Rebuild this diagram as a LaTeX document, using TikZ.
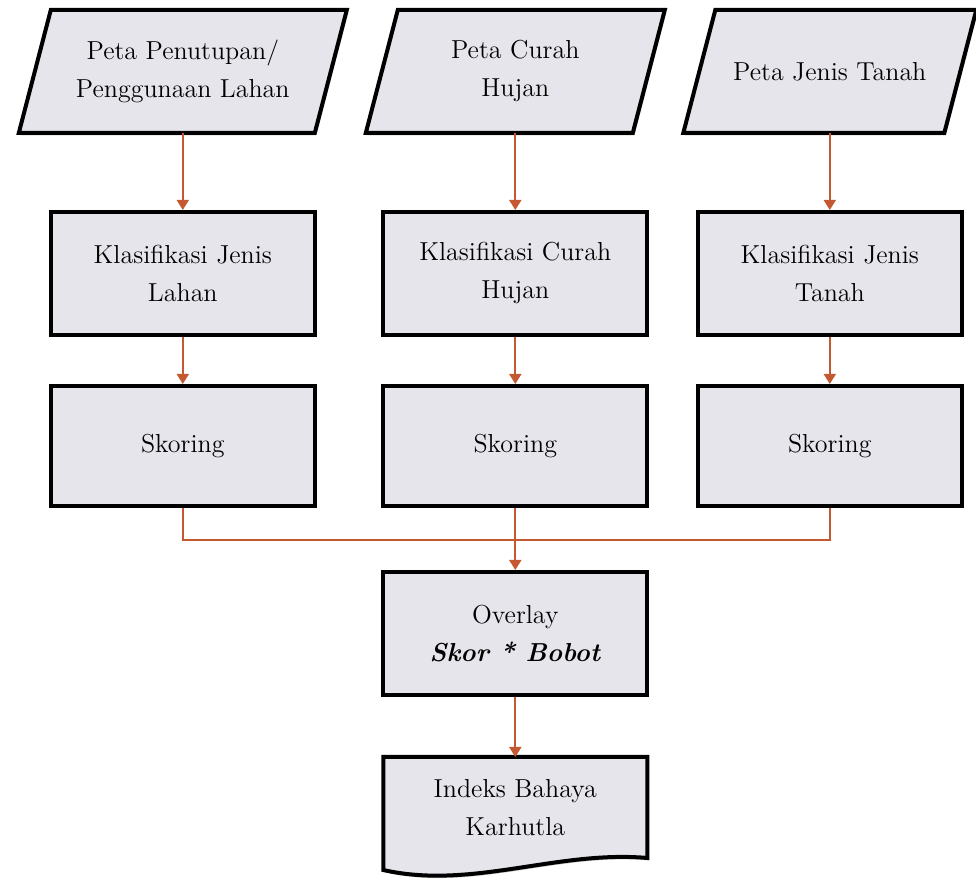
\documentclass[tikz,border=0pt]{standalone}
\usepackage{tikz}
\usetikzlibrary{calc,shapes.geometric,arrows.meta,shadows,backgrounds}
\definecolor{boxgray}{RGB}{229,229,235}
\definecolor{arrowred}{RGB}{196,88,48}
\tikzstyle{mapdata} = [rectangle, minimum height=61.5pt, outer sep=0pt, text centered, align=center]
\tikzstyle{process} = [rectangle, minimum width=132pt, minimum height=61.5pt, text centered, align=center, draw=black, line width=2pt, fill=boxgray, drop shadow={shadow xshift=0.8pt, shadow yshift=-1.2pt, fill=black!45}]
\tikzstyle{docnode} = [rectangle, minimum width=132pt, minimum height=50.5pt, outer sep=0pt, text centered, align=center]
\tikzstyle{shapeline} = [draw=black, line width=2pt, fill=boxgray, drop shadow={shadow xshift=0.8pt, shadow yshift=-1.2pt, fill=black!45}]
\tikzstyle{arrow} = [draw=arrowred, line width=0.9pt, -{Triangle[width=6pt, length=5pt]}]
\tikzstyle{link} = [draw=arrowred, line width=0.9pt]

\begin{document}
\begin{tikzpicture}[node distance=100pt, font=\fontsize{13}{19}\selectfont]
\useasboundingbox (-91.4pt,-404.75pt) rectangle (396.6pt,35.75pt);

% Nodes
\node (peta1) [mapdata, minimum width=148pt] {Peta Penutupan/\\Penggunaan Lahan};
\node (peta2) [mapdata, minimum width=133.5pt, right of=peta1, xshift=66.25pt] {Peta Curah\\Hujan};
\node (peta3) [mapdata, minimum width=130.5pt, right of=peta2, xshift=57.25pt] {Peta Jenis Tanah};
\node (klas1) [process, below of=peta1, yshift=-1pt] {Klasifikasi Jenis\\Lahan};
\node (klas2) [process, below of=peta2, yshift=-1pt] {Klasifikasi Curah\\Hujan};
\node (klas3) [process, below of=peta3, yshift=-1pt] {Klasifikasi Jenis\\Tanah};
\node (skor1) [process, minimum height=60pt, below of=klas1, yshift=13.75pt] {Skoring};
\node (skor2) [process, minimum height=60pt, below of=klas2, yshift=13.75pt] {Skoring};
\node (skor3) [process, minimum height=60pt, below of=klas3, yshift=13.75pt] {Skoring};
\node (ovl) [process, below of=skor2, yshift=6.25pt] {Overlay\\\textbf{\textit{Skor * Bobot}}};
\node (indeks) [docnode, below of=ovl, yshift=13pt] {Indeks Bahaya\\Karhutla};
\coordinate (join) at ($(skor2.south)+(0,-16pt)$);

% Parallelograms and document shape
\begin{scope}[on background layer]
\foreach \n in {peta1,peta2,peta3}
  \path [shapeline] ($(\n.south west)+(-8pt,0)$) -- ($(\n.north west)+(8pt,0)$)
    -- ($(\n.north east)+(8pt,0)$) -- ($(\n.south east)+(-8pt,0)$) -- cycle;
\path [shapeline] (indeks.north west) -- (indeks.north east) -- (indeks.south east)
  .. controls ($(indeks.south east)+(-45pt,4pt)$) and ($(indeks.south west)+(44pt,-16pt)$) .. ($(indeks.south west)+(0,-6pt)$) -- cycle;
\end{scope}

% Arrows
\draw [arrow] (peta1) -- (klas1);
\draw [arrow] (peta2) -- (klas2);
\draw [arrow] (peta3) -- (klas3);
\draw [arrow] (klas1) -- (skor1);
\draw [arrow] (klas2) -- (skor2);
\draw [arrow] (klas3) -- (skor3);
\draw [link] (skor1.south) |- (join);
\draw [link] (skor3.south) |- (join);
\draw [arrow] (skor2) -- (ovl);
\draw [arrow] (ovl) -- (indeks);

\end{tikzpicture}
\end{document}
